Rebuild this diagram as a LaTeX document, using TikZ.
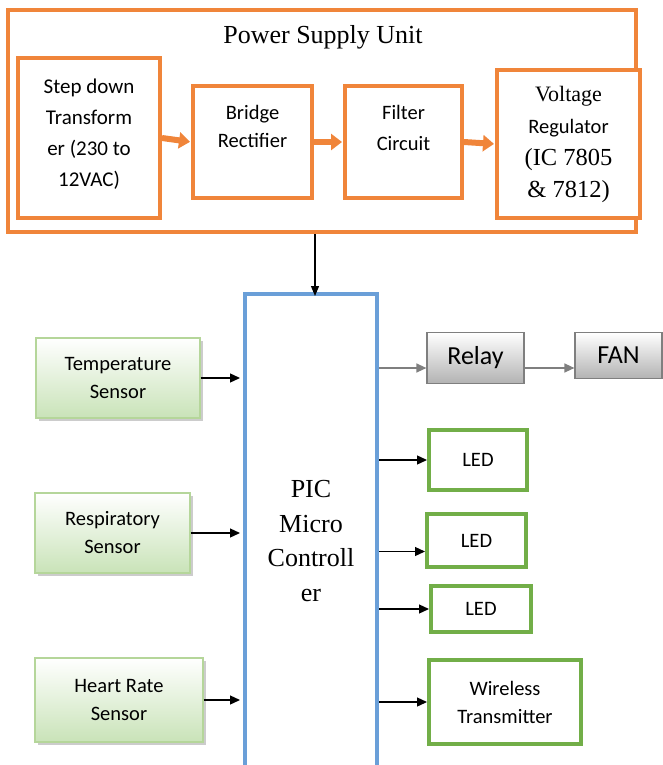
\documentclass[tikz,border=0pt]{standalone}
\usepackage{fontspec}
\setmainfont{Carlito}
\newfontfamily\timesfont{Liberation Serif}
\usetikzlibrary{positioning, arrows.meta, shadows}

\definecolor{psuorange}{HTML}{F0853A}
\definecolor{picblue}{HTML}{6A9FD8}
\definecolor{ledgreen}{HTML}{72AE48}
\definecolor{sensorline}{HTML}{B5D69A}
\definecolor{sensorfill}{HTML}{C9E3B8}
\definecolor{relaygray}{HTML}{7F7F7F}

\begin{document}
\begin{tikzpicture}[
    x=1pt, y=-1pt,
    font=\fontsize{20.5}{28}\selectfont,
    >=Triangle,
    psubox/.style={draw=psuorange, line width=4pt, fill=white, inner sep=0pt},
    sensorbox/.style={draw=sensorline, line width=1.2pt, top color=white, bottom color=sensorfill, align=center, inner sep=0pt,
        drop shadow={shadow xshift=2.5pt, shadow yshift=-2.5pt, fill=black!40}},
    graybox/.style={draw=relaygray, line width=1.2pt, top color=white, bottom color=black!30, inner sep=0pt, font=\fontsize{26}{30}\selectfont},
    outbox/.style={draw=ledgreen, line width=4pt, fill=white, align=center, inner sep=0pt},
    orangearrow/.style={-{Triangle[length=11pt, width=16pt]}, line width=6pt, draw=psuorange, shorten >=1pt},
    grayarrow/.style={-{Triangle[length=10pt, width=9pt]}, line width=1.3pt, draw=relaygray},
    arrow/.style={-{Triangle[length=10pt, width=9pt]}, line width=1.3pt}
]
\useasboundingbox (0,0) rectangle (663,765);

% Power supply unit
\node[psubox, minimum width=628pt, minimum height=222pt] (psu) at (322,121) {};
\node[font=\timesfont\fontsize{26}{30}\selectfont] (psu_label) at (323,37) {Power Supply Unit};
\node[psubox, minimum width=142pt, minimum height=160pt] (stepdown) at (89,138) {};
\node[align=center, font=\fontsize{21}{31}\selectfont] (stepdown_text) at (89,134) {Step down\\Transform\\er (230 to\\12VAC)};
\node[psubox, minimum width=119pt, minimum height=112pt] (bridge) at (252.5,142) {};
\node[align=center, below=18pt of bridge.north] (bridge_text) {Bridge\\Rectifier};
\node[psubox, minimum width=117pt, minimum height=112pt] (filter) at (403.5,142) {};
\node[align=center, below=18pt of filter.north, font=\fontsize{20.5}{31}\selectfont] (filter_text) {Filter\\Circuit};
\node[psubox, minimum width=143pt, minimum height=148pt] (regulator) at (568.5,144) {};
\node[align=center, font=\timesfont\fontsize{22}{32}\selectfont] (regulator_text) at (568.5,144)
    {Voltage\\{\fontsize{20.5}{32}\selectfont\normalfont Regulator}\\{\fontsize{24.5}{32}\selectfont (IC 7805}\\{\fontsize{24.5}{32}\selectfont \& 7812)}};

% Controller
\node[draw=picblue, line width=4pt, fill=white, minimum width=132pt, minimum height=473pt, inner sep=0pt] (pic) at (311,530) {};
\node[align=center, font=\timesfont\fontsize{26}{34.5}\selectfont] (pic_text) at (311,541) {PIC\\Micro\\Controll\\er};

% Sensors
\node[sensorbox, minimum width=164pt, minimum height=80pt] (temp) at (118,378) {Temperature\\Sensor};
\node[sensorbox, minimum width=155pt, minimum height=80pt] (resp) at (112.5,533) {Respiratory\\Sensor};
\node[sensorbox, minimum width=168pt, minimum height=84pt] (heart) at (119,700) {Heart Rate\\Sensor};

% Outputs
\node[graybox, minimum width=97pt, minimum height=51pt] (relay) at (475.5,358) {Relay};
\node[graybox, minimum width=87pt, minimum height=46pt] (fan) at (618.5,355.5) {FAN};
\node[outbox, minimum width=98pt, minimum height=60pt] (led_a) at (478,460) {LED};
\node[outbox, minimum width=99pt, minimum height=53pt] (led_b) at (476.5,540.5) {LED};
\node[outbox, minimum width=100pt, minimum height=46pt] (led_c) at (481,609) {LED};
\node[outbox, minimum width=152pt, minimum height=84pt] (wireless) at (505,702) {Wireless\\Transmitter};

% Arrows
\draw[orangearrow] (stepdown.east) -- (bridge.west);
\draw[orangearrow] (bridge.east) -- (filter.west);
\draw[orangearrow] (filter.east) -- (regulator.west);
\draw[-{Triangle[length=10pt, width=8pt]}, line width=1.2pt] (psu.south -| pic.north) ++(4,0) -- ++(0,62);

\draw[arrow, shorten >=3pt] (temp.east) -- (temp.east -| pic.west);
\draw[arrow, shorten >=3pt] (resp.east) -- (resp.east -| pic.west);
\draw[arrow, shorten >=3pt] (heart.east) -- (heart.east -| pic.west);

\draw[grayarrow] ([yshift=-10pt]relay.west -| pic.east) -- ([yshift=-10pt]relay.west);
\draw[grayarrow] ([yshift=-10pt]relay.east) -- ([yshift=-10pt]relay.east -| fan.west);
\draw[arrow] (led_a.west -| pic.east) -- (led_a.west);
\draw[arrow] ([yshift=-11pt]led_b.west -| pic.east) -- ([yshift=-11pt]led_b.west);
\draw[arrow] (led_c.west -| pic.east) -- (led_c.west);
\draw[arrow] (wireless.west -| pic.east) -- (wireless.west);

\end{tikzpicture}
\end{document}
